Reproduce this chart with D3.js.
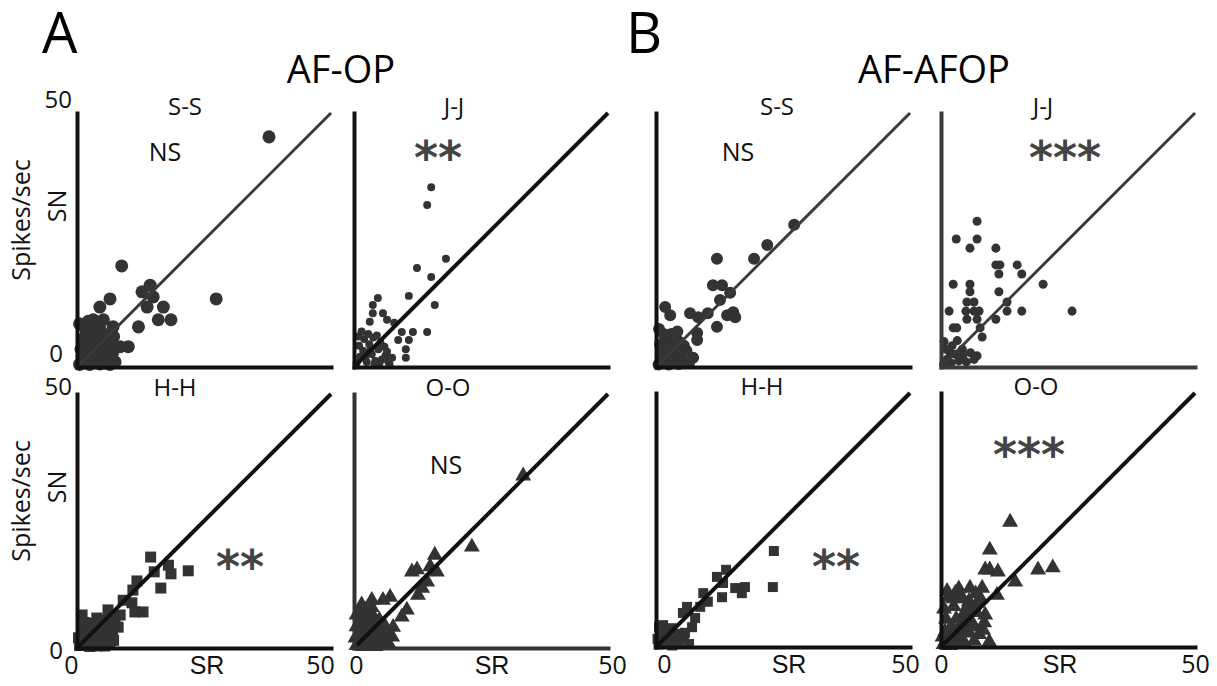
<!DOCTYPE html>
<html>
<head>
<meta charset="utf-8">
<script src="https://cdn.jsdelivr.net/npm/d3@7"></script>
<style>
  body { margin: 0; background: #fff; }
  svg { display: block; font-family: "Open Sans", sans-serif; }
</style>
</head>
<body>
<svg id="chart" width="1217" height="686"></svg>
<script>
// firing rates (spikes/sec), [SR, SN] pairs
const afopSS = [
  [37.8,45.3],[8.8,19.9],[27.4,13.4],[14.4,16.1],[12.8,14.8],[15.0,13.8],[13.8,11.8],[17.0,11.8],
  [16.0,9.3],[18.5,9.3],[12.1,7.9],[6.5,13.4],[4.5,11.8],[3.2,9.3],[5.2,9.3],[7.1,7.9],[10.1,4.0],
  [8.5,4.0],[1.9,6.7],
  [0.5,0.5],[1.5,0.8],[2.5,0.5],[3.5,1],[4.5,0.6],[5.5,0.8],[6.5,0.5],[7.5,1],[1,2],[2,2.5],[3,2],
  [4,2.5],[5,2],[6,2.2],[7,2.8],[0.8,3.5],[2,4],[3,3.8],[4.2,4.2],[5.5,3.6],[6.5,4],[1.2,5.5],
  [2.5,5.8],[3.8,6],[5,5.5],[6.2,6.4],[1.8,7.2],[3,7.8],[4.5,7.5],[7.2,6],[0.5,8.5],[2.2,9]
];
const afopJJ = [
  [15.2,35.4],[14.4,31.9],[18.1,21.3],[12.4,19.5],[15.2,17.7],[10.8,14.0],[15.9,12.2],[14.4,6.9],
  [11.6,6.9],[10.8,5.3],[10.2,3.5],[10.2,1.8],[9.4,6.9],[8.7,5.3],[7.9,8.7],[6.5,9.3],[5.7,10.6],
  [4.7,13.6],[3.7,12.2],[3.7,10.6],[3.1,8.9],
  [0.5,0.8],[1.2,2],[1.8,3.2],[2.5,1],[3,4.5],[3.5,2.5],[4.2,1.2],[4.8,3.5],[5.5,1.5],[6.2,2.2],
  [6.8,1],[7.5,1.8],[1,4.2],[2,5.5],[2.8,6.5],[3.8,5.8],[4.5,6.2],[5.2,4.8],[6,4],[1.5,7],[2.2,1.8],
  [3.2,3.2],[4,0.6],[5,0.8],[7,0.5],[0.8,6],[6.5,3]
];
const afopHH = [
  [14.5,17.9],[15.2,15.0],[18.0,16.3],[18.5,14.6],[21.9,15.2],[16.5,11.8],[11.8,13.2],[11.0,11.4],
  [9.1,9.4],[10.8,8.9],[13.0,7.1],[11.4,7.1],[8.5,6.5],[6.1,7.5],[8.1,4.1],[4.5,5.5],[2.6,4.9],
  [4.5,2.2],[6.5,6.1],[3.9,5.9],
  [0.5,0.5],[1.2,1.5],[2,0.8],[2.8,2.2],[1,3],[3.5,1],[4.2,2.8],[2.2,4],[5,1.2],[5.8,2.5],[3.5,3.8],
  [6.5,1],[1.5,5],[7,3],[1.8,2.5],[3,3],[2.5,0.3],[0.3,2],[4,0.4],[5.5,0.4],[3.2,4.5],[5,3.5],
  [6,4.5],[7.5,5],[1,6.5],[7.2,1.5]
];
const afopOO = [
  [33.3,33.9],[23.2,19.9],[15.9,18.3],[15.0,16.0],[16.3,15.0],[12.4,15.4],[11.4,15.0],[14.4,13.0],
  [13.4,11.8],[12.6,10.4],[10.4,7.5],[9.4,6.1],[7.1,10.0],[5.7,9.4],[3.5,9.4],[2.2,7.5],[7.7,4.1],
  [0.5,0.5],[1.5,1.5],[2.5,0.8],[0.8,2.8],[3.5,2],[2,3.8],[4.5,1],[5.5,2.5],[1,5],[3,5],[6.5,1.2],
  [4,4],[7.5,2.2],[0.5,6.5],[2.5,6.5],[5,5.5],[1.5,8.5],[3.5,8],[6,3.5],[7,0.5],
  [1,1],[2,2],[3,3],[4,2.8],[5,4],[6,4.5],[0.3,2],[1.8,0.3],[3,0.5],[4.2,0.3],[5.2,0.8],[6.2,2.6],
  [2.2,5.5],[0.5,4.2],[3.8,6.2],[1.2,7]
];
const afafopSS = [
  [27.2,28.0],[21.9,24.0],[19.3,21.3],[12.0,21.3],[11.2,16.1],[13.0,16.1],[14.6,14.6],[12.6,13.2],
  [15.2,10.8],[15.6,9.8],[14.0,10.2],[12.0,7.9],[10.2,10.6],[6.7,10.6],[8.3,9.8],[1.8,11.8],
  [2.8,10.2],[8.1,6.7],[8.1,5.3],[7.3,1.8],
  [0.5,0.5],[1.5,1],[2.5,0.5],[3.5,1.2],[4.5,0.6],[5.5,1],[6.5,0.8],[1,2.5],[2,3],[3,2.2],[4,3],
  [5,2.5],[6,3.2],[0.8,4.5],[2,5],[3.2,4.5],[4.5,5],[5.5,4.2],[1.5,6.5],[3,6.5],[4.2,7],[0.6,7.5]
];
const afafopJJ = [
  [7.1,28.7],[3.0,25.2],[7.1,25.2],[5.7,23.4],[10.8,23.4],[10.8,20.1],[11.6,20.1],[11.4,18.3],
  [15.0,20.1],[15.9,18.3],[20.1,16.3],[11.4,14.8],[2.4,16.3],[5.7,16.3],[5.7,14.8],[5.1,12.8],
  [6.5,12.8],[4.9,11.0],[6.5,11.0],[7.5,11.0],[1.6,11.0],[5.1,9.4],[7.1,9.4],[13.0,12.8],
  [13.0,11.0],[15.9,11.0],[25.8,11.0],[10.8,9.4],[7.7,7.7],[8.1,5.9],[2.4,7.7],[3.1,7.7],
  [7.1,2.2],[4.3,2.2],
  [0.5,0.5],[1.2,1.5],[2,0.8],[2.8,2.5],[3.5,1.2],[1,3.5],[2.2,4.2],[4.2,3.5],[5,1],[5.8,2.8],
  [0.6,5],[3.2,5.2],[6.5,1.5],[1.8,2.8]
];
const afafopHH = [
  [23.2,18.9],[23.0,11.8],[17.5,11.8],[16.9,10.6],[15.6,11.6],[13.8,15.2],[12.0,13.8],[13.2,12.6],
  [13.0,9.8],[9.3,10.6],[10.2,8.9],[8.7,7.9],[6.1,7.9],[5.3,6.7],[7.7,5.7],[7.1,3.9],[5.7,2.8],
  [1.4,4.3],[3.1,3.7],
  [0.5,0.5],[1.5,1.2],[2.5,0.6],[3.5,1.5],[1,2.5],[2.5,2.8],[4.5,0.8],[5.5,1.8],[6.5,0.6],[0.6,4],
  [2,2],[3.2,0.3],[4.2,2.6],[0.3,1.6]
];
const afafopOO = [
  [13.6,24.6],[9.6,19.1],[9.6,15.2],[11.2,14.8],[8.7,15.2],[14.6,12.8],[19.1,15.2],[22.0,15.6],
  [11.0,10.2],[8.1,11.6],[5.7,11.6],[2.8,10.6],[8.7,6.3],[8.3,3.3],[5.1,7.9],[7.1,8.7],
  [0.5,0.5],[1.5,1.5],[2.5,0.6],[0.8,3],[3.5,2.2],[2,4],[4.5,1],[5.5,2.8],[1,5.5],[3,5.5],[6.5,1.2],
  [4,4.2],[7.5,2.5],[0.6,7.5],[2.5,8],[4.5,6.5],[6,5],[3.5,9.5],[1.5,9.8],[9.5,1],[8.5,4.8],[7,6.8],
  [1,1],[2,2],[3,3],[4.5,3],[5.5,4],[6.5,4],[0.3,2],[1.8,0.3],[3,0.6],[4,1.8],[5,6],[6,7],
  [2.5,9.5],[4,10],[1.2,11],[5.5,9],[7.8,9.5],[6.8,10.5],[3.5,11.5]
];

const groupLabels = ["A", "B"];
const groupTitles = ["AF-OP", "AF-AFOP"];
const pairTitles = ["S-S", "J-J", "H-H", "O-O"];
const stats = ["NS", "**", "**", "NS", "NS", "***", "**", "***"];
const axisTicks = [0, 50];

const SIZE = 254;
const svg = d3.select("#chart");

// layout of the eight panels
const panels = [
  { data: afopSS,   left: 77,  bottom: 367, shape: d3.symbolCircle,   area: 133, title: 0, tx: 185, sx: 165, sy: 152, stat: 0, ink: "#111", diag: "#3a3a3a", dw: 3 },
  { data: afopJJ,   left: 354, bottom: 367, shape: d3.symbolCircle,   area: 50,  title: 1, tx: 454, sx: 438, sy: 148, stat: 1, ink: "#111", diag: "#111", dw: 4 },
  { data: afopHH,   left: 77,  bottom: 648, shape: d3.symbolSquare,   area: 121, title: 2, tx: 175, sx: 240, sy: 557, stat: 2, ink: "#111", diag: "#111", dw: 4, xl: [-6, 3, -11] },
  { data: afopOO,   left: 354, bottom: 648, shape: d3.symbolTriangle, area: 110, title: 3, tx: 448, sx: 446, sy: 465, stat: 3, ink: "#333", diag: "#111", dw: 4, xl: [2, 11, 4] },
  { data: afafopSS, left: 656, bottom: 367, shape: d3.symbolCircle,   area: 113, title: 0, tx: 777, sx: 738, sy: 152, stat: 4, ink: "#111", diag: "#3a3a3a", dw: 3 },
  { data: afafopJJ, left: 941, bottom: 367, shape: d3.symbolCircle,   area: 64,  title: 1, tx: 1043, sx: 1065, sy: 148, stat: 5, ink: "#3a3a3a", diag: "#3a3a3a", dw: 3 },
  { data: afafopHH, left: 656, bottom: 647, shape: d3.symbolSquare,   area: 100, title: 2, tx: 762, sx: 836, sy: 557, stat: 6, ink: "#111", diag: "#111", dw: 4, xl: [8, 6, -5] },
  { data: afafopOO, left: 941, bottom: 647, shape: d3.symbolTriangle, area: 110, title: 3, tx: 1036, sx: 1029, sy: 445, stat: 7, ink: "#111", diag: "#111", dw: 4, xl: [0, -8, 0] }
];

panels.forEach((p, i) => {
  const x = d3.scaleLinear().domain([0, 50]).range([p.left, p.left + SIZE]);
  const y = d3.scaleLinear().domain([0, 50]).range([p.bottom, p.bottom - SIZE]);
  const g = svg.append("g");

  // points
  g.append("g").selectAll("path")
    .data(p.data).join("path")
    .attr("transform", d => `translate(${x(d[0])},${y(d[1])})`)
    .attr("d", d3.symbol(p.shape, p.area))
    .attr("fill", "#333");

  // unity line
  g.append("path")
    .datum([[0, 0], [50, 50]])
    .attr("d", d3.line().x(d => x(d[0])).y(d => y(d[1])))
    .attr("stroke", p.diag).attr("stroke-width", p.dw).attr("fill", "none");

  const isBottom = !!p.xl;
  const isLeft = p.left === 77;
  const topRow = p.bottom < 400;

  const xAxis = g.append("g")
    .attr("transform", `translate(0,${p.bottom})`)
    .call(d3.axisBottom(x).tickValues(isBottom ? axisTicks : []).tickSize(0).tickSizeOuter(0).tickPadding(8));
  const yAxis = g.append("g")
    .attr("transform", `translate(${p.left},0)`)
    .call(d3.axisLeft(y).tickValues(isLeft ? axisTicks : []).tickSize(0).tickSizeOuter(0).tickPadding(5));

  [xAxis, yAxis].forEach(a => {
    a.select(".domain").attr("stroke", p.ink).attr("stroke-width", 4).attr("stroke-linecap", "square");
    a.selectAll("text").attr("fill", "#111").attr("font-family", "Open Sans, sans-serif");
  });

  if (isBottom) {
    xAxis.selectAll(".tick text")
      .attr("font-size", 25)
      .attr("dx", d => d === 0 ? p.xl[0] : p.xl[2]);
    xAxis.append("text")
      .attr("x", x(25) + p.xl[1]).attr("y", 8).attr("dy", "0.71em")
      .attr("text-anchor", "middle").attr("font-size", 25).attr("fill", "#111")
      .text("SR");
  }
  if (isLeft) {
    yAxis.selectAll(".tick text")
      .attr("font-size", 24)
      .attr("dy", d => d === 50 ? (topRow ? "-0.25em" : "0em") : (topRow ? "-0.25em" : "0.45em"))
      .attr("dx", d => d === 0 ? -9 : 0);
    svg.append("text")
      .attr("transform", `translate(30,${p.bottom - 147}) rotate(-90)`)
      .attr("text-anchor", "middle").attr("font-size", 25).attr("fill", "#111")
      .text("Spikes/sec");
    svg.append("text")
      .attr("transform", `translate(66,${p.bottom - 161}) rotate(-90)`)
      .attr("text-anchor", "middle").attr("font-size", 25).attr("fill", "#111")
      .text("SN");
  }

  // pair title
  g.append("text")
    .attr("x", p.tx).attr("y", p.bottom - SIZE + 2)
    .attr("text-anchor", "middle").attr("font-size", 24).attr("fill", "#111")
    .text(pairTitles[p.title]);

  // significance
  const s = stats[p.stat];
  if (s === "NS") {
    g.append("text")
      .attr("x", p.sx).attr("y", p.sy + 9)
      .attr("text-anchor", "middle").attr("font-size", 25).attr("fill", "#111")
      .text(s);
  } else {
    g.append("text")
      .attr("x", p.sx).attr("y", p.sy + 26)
      .attr("text-anchor", "middle").attr("font-size", 46).attr("font-weight", "bold")
      .attr("font-family", "DejaVu Sans, sans-serif").attr("fill", "#444")
      .text(s);
  }
});

// group letters and titles
svg.selectAll("text.letter")
  .data(groupLabels).join("text")
  .attr("class", "letter")
  .attr("x", (d, i) => i === 0 ? 42 : 626).attr("y", 53)
  .attr("font-size", 56).attr("fill", "#000")
  .text(d => d);

svg.selectAll("text.group")
  .data(groupTitles).join("text")
  .attr("class", "group")
  .attr("x", (d, i) => i === 0 ? 341 : 934).attr("y", 83)
  .attr("text-anchor", "middle").attr("font-size", 38).attr("fill", "#000")
  .text(d => d);
</script>
</body>
</html>
